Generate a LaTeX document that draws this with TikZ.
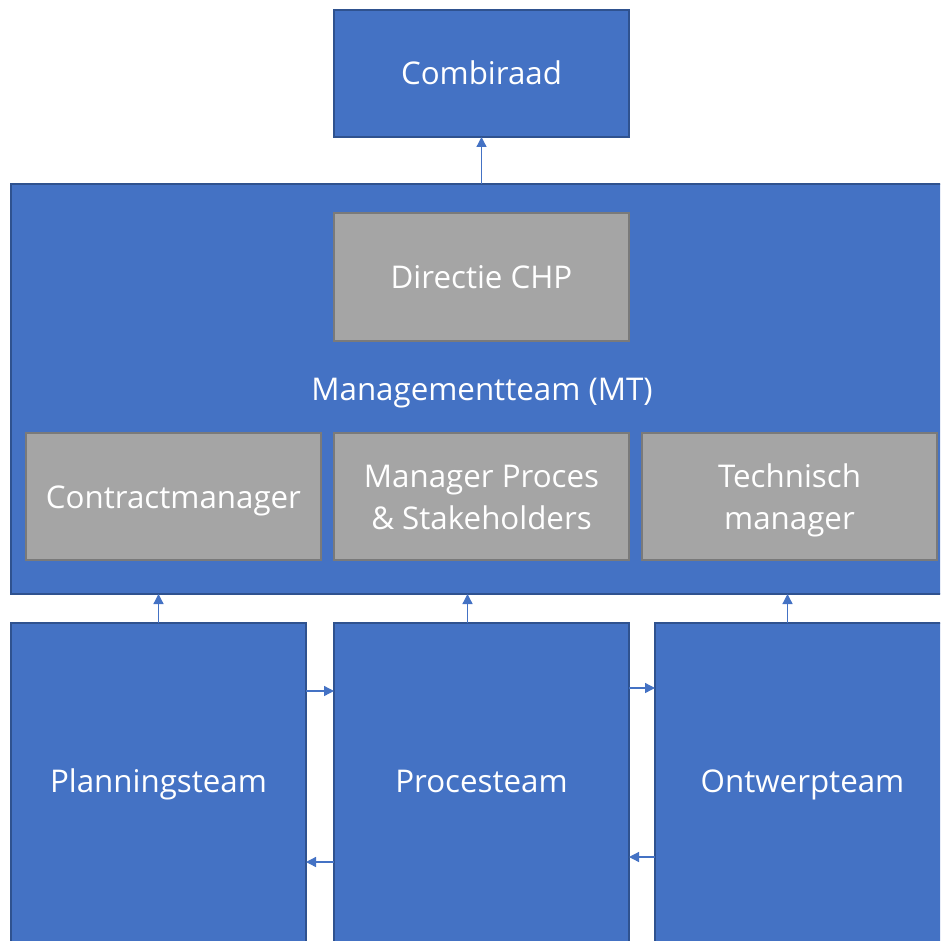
\documentclass[tikz,border=0pt]{standalone}
\usepackage{fontspec}
\setmainfont{Open Sans}[Ligatures=NoCommon]
\usetikzlibrary{positioning,arrows.meta}
\definecolor{orgBlue}{HTML}{4472C4}
\definecolor{orgBlueLine}{HTML}{2F528F}
\definecolor{orgGrey}{HTML}{A5A5A5}
\definecolor{orgGreyLine}{HTML}{7A7A7A}

\begin{document}
\begin{tikzpicture}[x=1pt, y=-1pt, >={Triangle[length=10pt,width=10pt]}]

    %
    % Styles for units, roles and flows
    %
    \tikzstyle{boxText} = [align=center, text=white, font={\fontsize{31.3}{42}\selectfont},
                          text height=32pt, text depth=9pt]
    \tikzstyle{twoLines} = [text height=74pt, text depth=9pt]
    \tikzstyle{bbox} = [draw, rectangle, line width=2pt, outer sep=0pt,
                          minimum width=295pt, minimum height=127pt, boxText]
    \tikzstyle{unit} = [bbox, fill=orgBlue, draw=orgBlueLine]
    \tikzstyle{role} = [bbox, fill=orgGrey, draw=orgGreyLine]
    \tikzstyle{team} = [unit, minimum height=322pt, text height=26pt]
    \tikzstyle{dataFlow} = [orgBlue, line width=1.3pt, ->];

    \useasboundingbox (0,0) rectangle (940,941);
    \clip (0,0) rectangle (940,941);

    %
    % Position boxes
    %
    \node[unit, name=combiraad] at (481.5,73.5) {Combiraad};
    \node[unit, name=mt, minimum width=942pt, minimum height=410pt] at (482,389) {Managementteam (MT)};
    \node[role, name=directie] at (481.5,277) {Directie CHP};
    \node[role, twoLines, name=mps] at (481.5,496.5) {Manager Proces\\\& Stakeholders};
    \node[role, name=contract, left=13pt of mps] {Contractmanager};
    \node[role, twoLines, name=technisch, right=13pt of mps] {Technisch\\manager};

    \node[team, name=proces] at (481.5,784) {Procesteam};
    \node[team, name=planning, left=28pt of proces] {Planningsteam};
    \node[team, name=ontwerp, right=26pt of proces] {Ontwerpteam};

    %
    % Connect boxes via flows
    %
    \draw[dataFlow] (combiraad.south |- mt.north) -- (combiraad.south);
    \draw[dataFlow] (planning.north) -- (planning.north |- mt.south);
    \draw[dataFlow] ([xshift=-14pt]proces.north) -- ([xshift=-14pt]proces.north |- mt.south);
    \draw[dataFlow] ([xshift=-15pt]ontwerp.north) -- ([xshift=-15pt]ontwerp.north |- mt.south);
    \draw[dataFlow] ([yshift=93pt]planning.east) -- ([yshift=93pt]proces.west);
    \draw[dataFlow] ([yshift=96pt]proces.east) -- ([yshift=96pt]ontwerp.west);
    \draw[dataFlow] ([yshift=-78pt]proces.west) -- ([yshift=-78pt]planning.east);
    \draw[dataFlow] ([yshift=-73pt]ontwerp.west) -- ([yshift=-73pt]proces.east);
  \end{tikzpicture}
\end{document}
